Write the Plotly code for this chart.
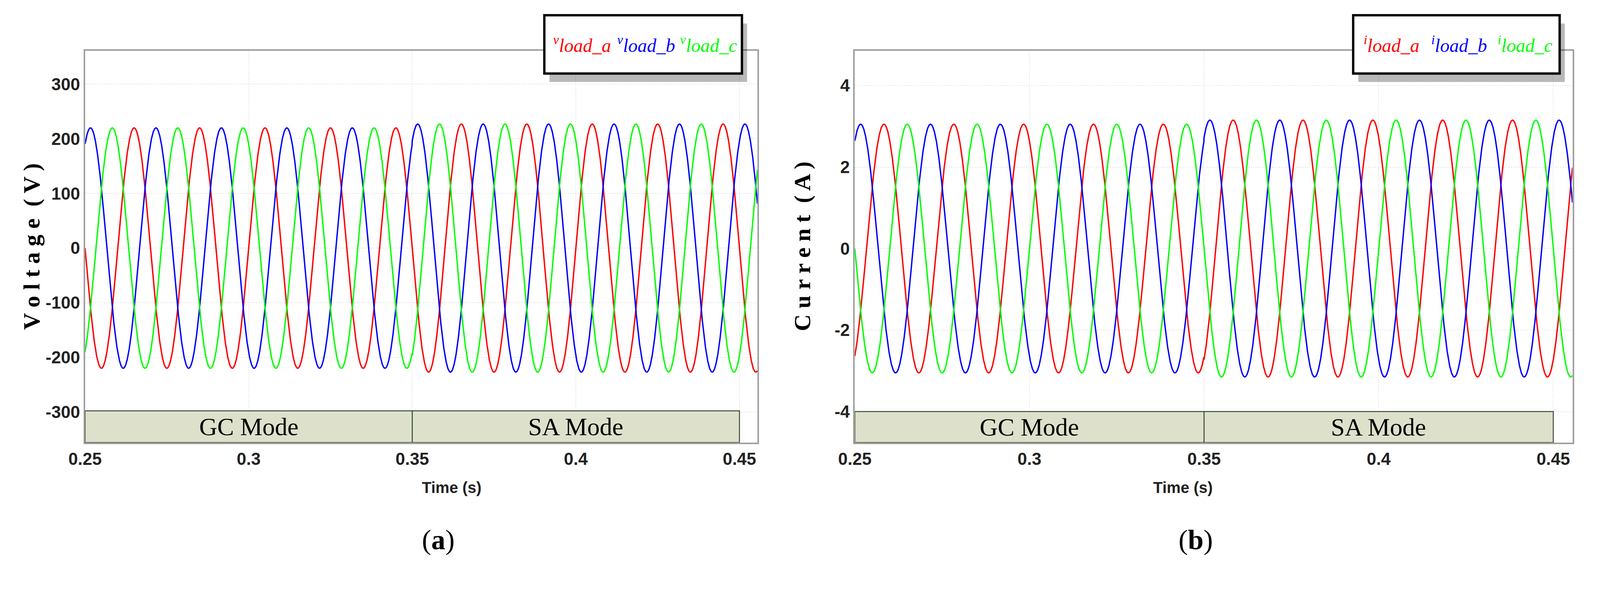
import numpy as np
import plotly.graph_objects as go

# waveform parameters
freq_hz = 50.0
mode_names = ['GC Mode', 'SA Mode']
mode_edges = [0.25, 0.35, 0.45]
volt_amp = [220.0, 227.0]        # peak voltage per mode
curr_amp = [3.05, 3.15]          # peak current per mode
phase_names = ['a', 'b', 'c']
phase_colors = ['#ff0000', '#0000ff', '#00ff00']
volt_shift_deg = [0, -120, 120]  # phase offsets, voltage
curr_shift_deg = [120, -120, 0]  # phase offsets, current
x_ticks = [0.25, 0.3, 0.35, 0.4, 0.45]
v_ticks = [300, 200, 100, 0, -100, -200, -300]
i_ticks = [4, 2, 0, -2, -4]

W, H = 4323, 1518
t = np.linspace(0.25, 0.4555, 4000)


def wave(amps, shift_deg):
    amp = np.where(t < mode_edges[1], amps[0], amps[1])
    return -amp * np.sin(2 * np.pi * freq_hz * (t - 0.25) + np.deg2rad(shift_deg))


fig = go.Figure()
for k in range(3):
    fig.add_trace(go.Scatter(x=t, y=wave(volt_amp, volt_shift_deg[k]), mode='lines',
                             line=dict(color=phase_colors[k], width=3.5),
                             xaxis='x', yaxis='y', showlegend=False))
    fig.add_trace(go.Scatter(x=t, y=wave(curr_amp, curr_shift_deg[k]), mode='lines',
                             line=dict(color=phase_colors[k], width=3.5),
                             xaxis='x2', yaxis='y2', showlegend=False))

narrow = 'Liberation Sans Narrow, Liberation Sans, Arial'
serif = 'Liberation Serif, Times New Roman, serif'
tickfont = dict(family=narrow, size=44, color='#222')
grid = dict(showgrid=True, gridcolor='#e4e4e4', griddash='dot', gridwidth=2,
            showline=True, linecolor='#a0a0a0', linewidth=4, mirror=True,
            zeroline=False, ticks='', tickfont=tickfont)


def lab(vals):
    return [f'<b>{v:g}</b>' for v in vals]


fig.update_layout(
    autosize=True, margin=dict(l=0, r=0, t=0, b=0, autoexpand=False),
    paper_bgcolor='white', plot_bgcolor='white',
    xaxis=dict(domain=[0.0514, 0.4733], range=[0.25, 0.4555], tickvals=x_ticks,
               ticktext=lab(x_ticks), anchor='y', **grid),
    yaxis=dict(domain=[0.2358, 0.917], range=[-356, 361], tickvals=v_ticks,
               ticktext=lab(v_ticks), anchor='x', **grid),
    xaxis2=dict(domain=[0.5344, 0.9847], range=[0.25, 0.4555], tickvals=x_ticks,
                ticktext=lab(x_ticks), anchor='y2', **grid),
    yaxis2=dict(domain=[0.2358, 0.917], range=[-4.76, 4.85], tickvals=i_ticks,
                ticktext=lab(i_ticks), anchor='x2', **grid),
)

shapes = []
annotations = []
for xa, ya, band_top, band_bot in [('x', 'y', -298, -356), ('x2', 'y2', -4.0, -4.76)]:
    for m in range(2):
        shapes.append(dict(type='rect', xref=xa, yref=ya, x0=mode_edges[m], x1=mode_edges[m + 1],
                           y0=band_bot, y1=band_top, fillcolor='#dde1cb',
                           line=dict(color='#3a4a3a', width=2.5), layer='above'))
        annotations.append(dict(xref=xa, yref=ya, x=(mode_edges[m] + mode_edges[m + 1]) / 2,
                                y=(band_top + band_bot) / 2, text=mode_names[m], showarrow=False,
                                font=dict(family=serif, size=64, color='black')))

# axis titles and captions
annotations += [
    dict(xref='paper', yref='paper', x=40 / W, y=0.577, text='<b>V o l t a g e  ( V )</b>', textangle=-90,
         showarrow=False, font=dict(family=serif, size=60, color='black')),
    dict(xref='paper', yref='paper', x=2168 / W, y=0.577, text='<b>C u r r e n t  ( A )</b>', textangle=-90,
         showarrow=False, font=dict(family=serif, size=60, color='black')),
    dict(xref='paper', yref='paper', x=(222 + 2046) / 2 / W, y=1 - 1304 / H, text='<b>Time (s)</b>',
         showarrow=False, font=dict(family=narrow, size=40, color='#222')),
    dict(xref='paper', yref='paper', x=(2310 + 4257) / 2 / W, y=1 - 1304 / H, text='<b>Time (s)</b>',
         showarrow=False, font=dict(family=narrow, size=40, color='#222')),
    dict(xref='paper', yref='paper', x=(222 + 2046) / 2 / W, y=1 - 1460 / H, text='(<b>a</b>)',
         showarrow=False, font=dict(family=serif, size=72, color='black')),
    dict(xref='paper', yref='paper', x=(2310 + 4257) / 2 / W, y=1 - 1460 / H, text='(<b>b</b>)',
         showarrow=False, font=dict(family=serif, size=72, color='black')),
]

# legend boxes with drop shadow, one label per phase
for sym, (bx0, bx1), offs in [('v', (1468, 2004), [22, 196, 366]), ('i', (3662, 4222), [26, 210, 390])]:
    by0, by1 = 32, 186
    shapes.append(dict(type='rect', xref='paper', yref='paper', x0=(bx0 + 14) / W, x1=(bx1 + 14) / W,
                       y0=1 - (by1 + 22) / H, y1=1 - (by0 + 22) / H, fillcolor='rgba(0,0,0,0.28)',
                       line=dict(width=0), layer='above'))
    shapes.append(dict(type='rect', xref='paper', yref='paper', x0=bx0 / W, x1=bx1 / W,
                       y0=1 - by1 / H, y1=1 - by0 / H, fillcolor='white',
                       line=dict(color='black', width=6), layer='above'))
    for p, c, off in zip(phase_names, phase_colors, offs):
        annotations.append(dict(xref='paper', yref='paper', x=(bx0 + off) / W, y=1 - 108 / H,
                                xanchor='left', yanchor='middle',
                                text=f'<i><sup>{sym}</sup>load_{p}</i>', showarrow=False,
                                font=dict(family=serif, size=48, color=c)))

fig.update_layout(shapes=shapes, annotations=annotations)
fig.write_html('out.html', config={'responsive': True}, default_width='100%', default_height='97vh')
